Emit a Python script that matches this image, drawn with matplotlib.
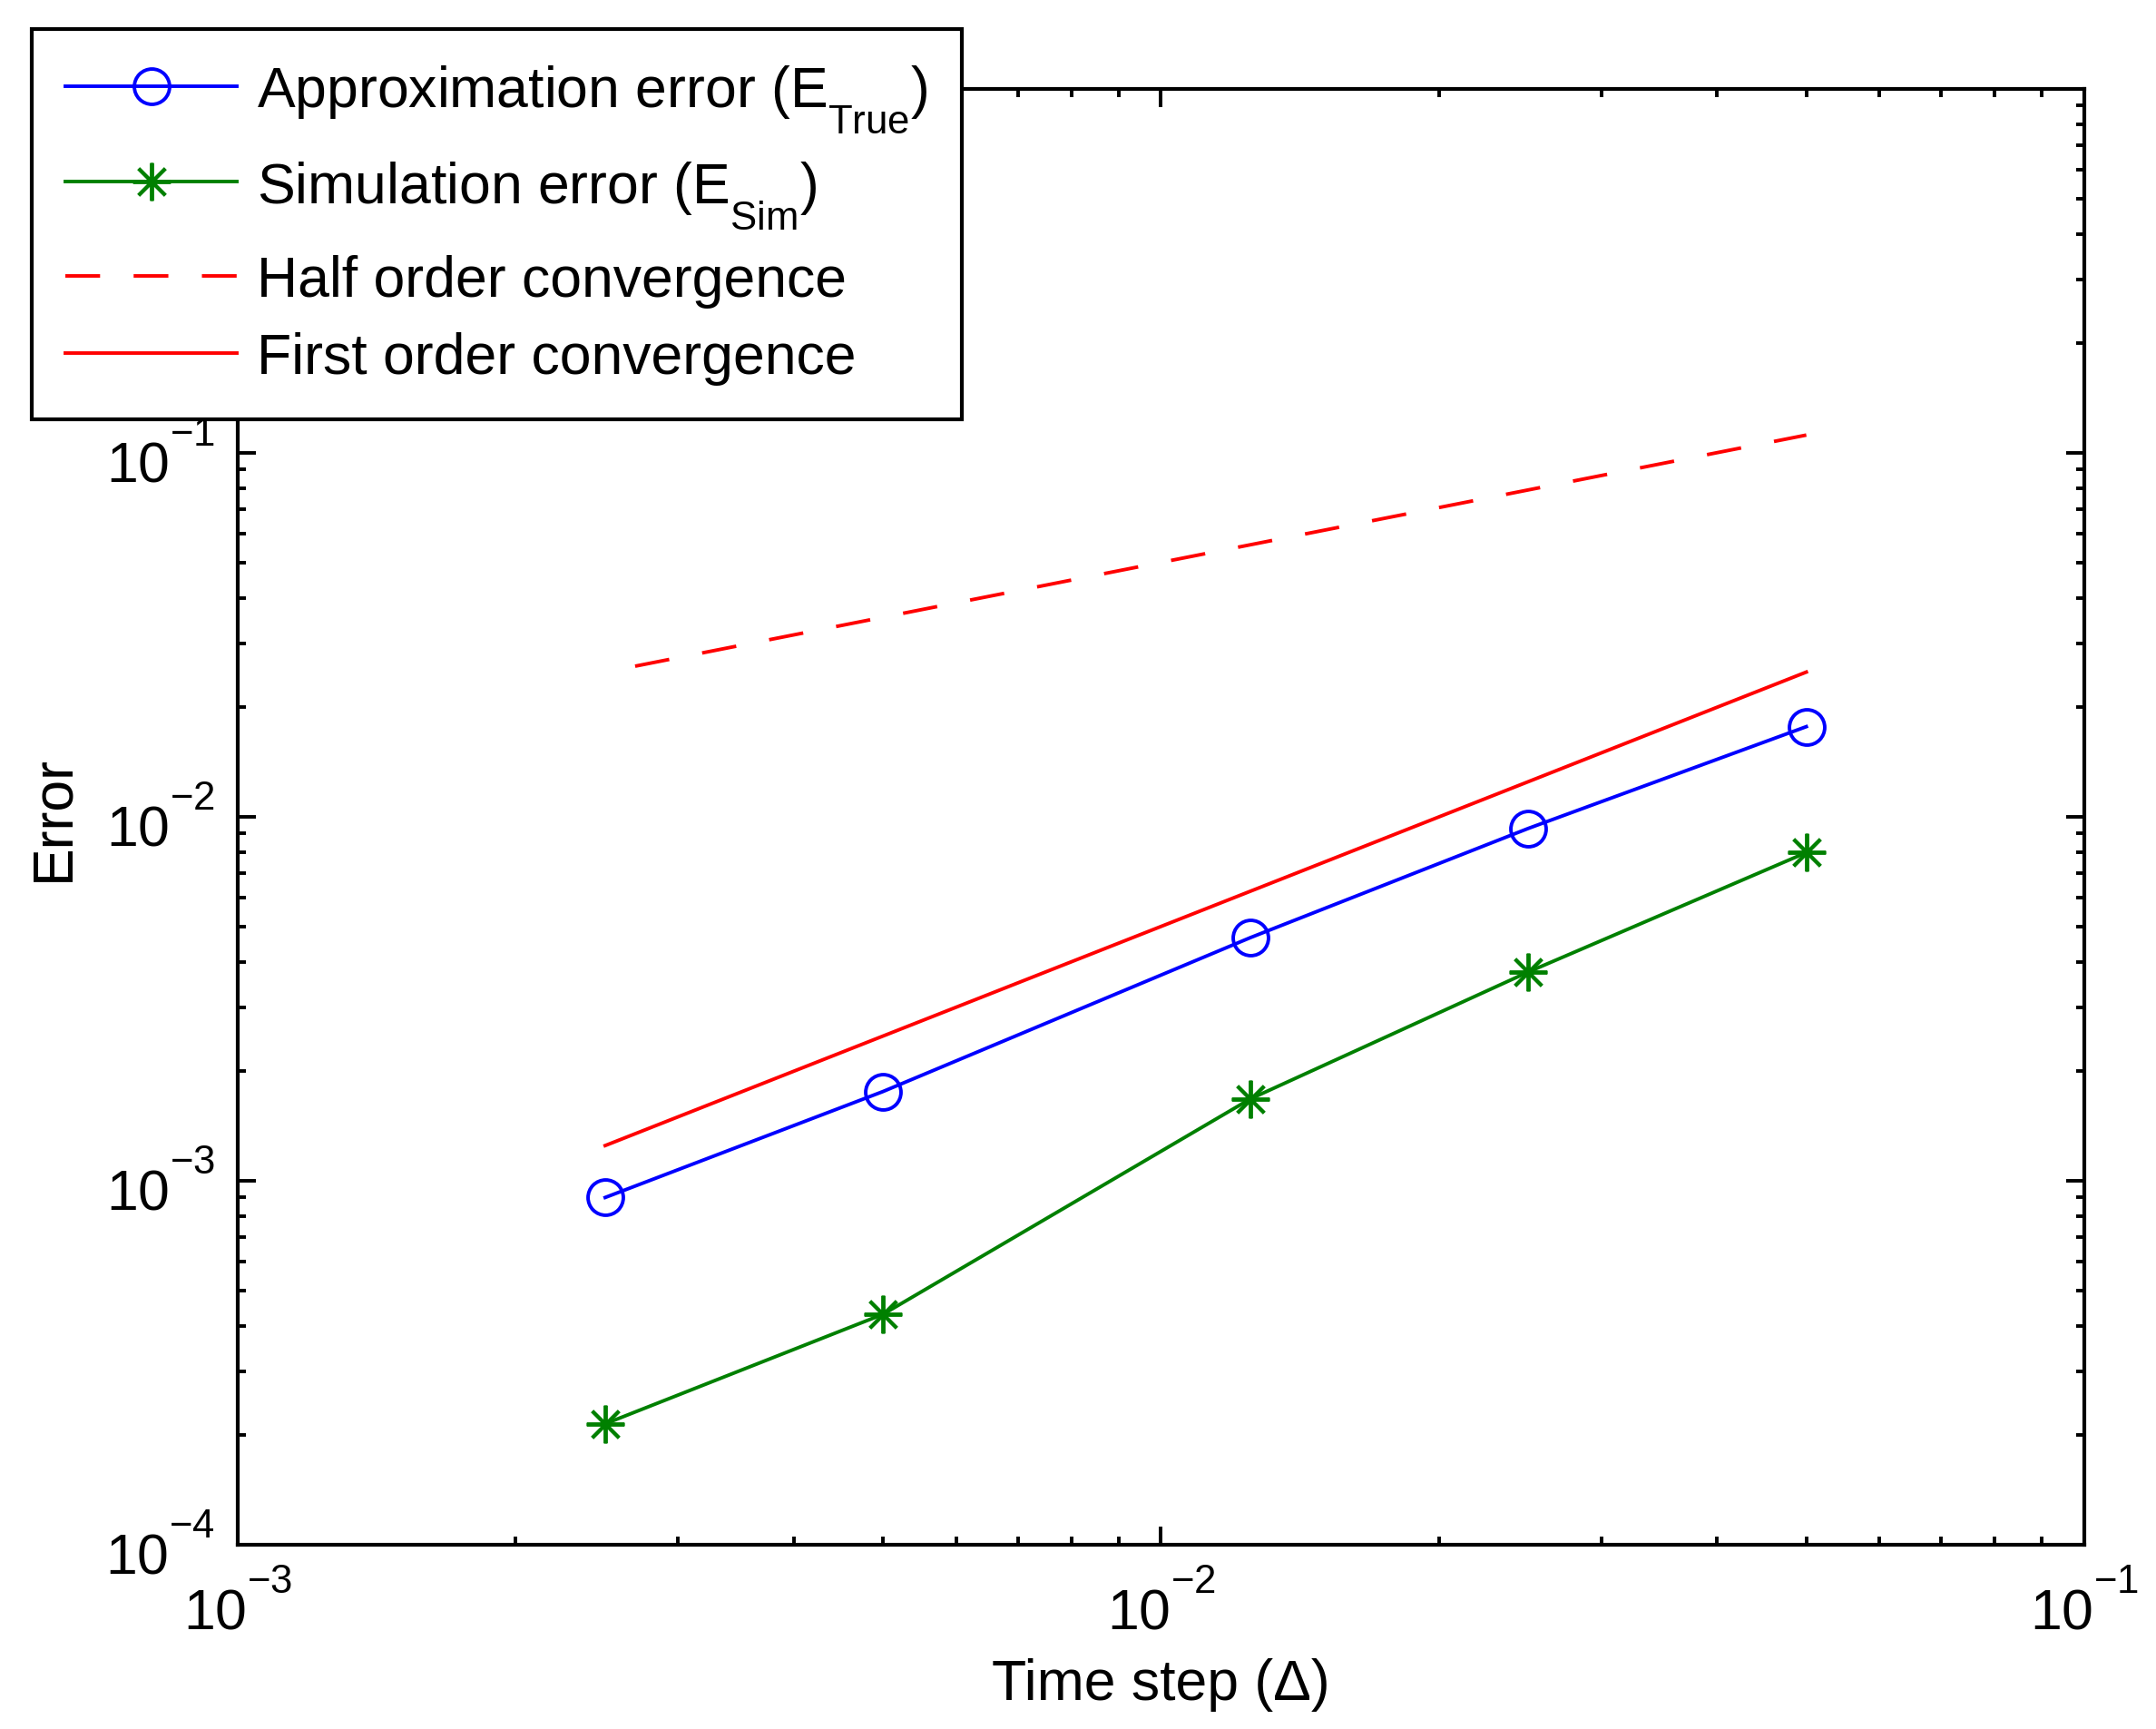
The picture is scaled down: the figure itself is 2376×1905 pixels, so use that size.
import matplotlib
matplotlib.use("Agg")
import matplotlib.pyplot as plt
import matplotlib._mathtext as mtext
from matplotlib.ticker import LogLocator, LogFormatterMathtext

plt.rcParams["font.family"] = ["Liberation Sans", "DejaVu Sans"]
plt.rcParams["mathtext.default"] = "regular"
plt.rcParams["font.size"] = 22.5

# MATLAB puts sub/superscripts further from the baseline
mtext.FontConstantsBase.sub1 = 0.9
mtext.FontConstantsBase.sup1 = 1.2

# time steps
dt = [0.0025, 0.005, 0.0125, 0.025, 0.05]
# errors
e_true = [9.0e-4, 1.76e-3, 4.66e-3, 9.3e-3, 1.77e-2]
e_sim = [2.15e-4, 4.3e-4, 1.68e-3, 3.75e-3, 7.98e-3]
# reference slopes
half_x = [0.0025, 0.05]
half_y = [0.025, 0.112]
first_x = [0.0025, 0.05]
first_y = [1.25e-3, 0.025]

fig = plt.figure(figsize=(11.88, 9.53), dpi=200)
ax = fig.add_axes([0.1103, 0.1065, 0.9667 - 0.1103, 0.948 - 0.1065])

lw = 1.4
dash = (9.85, 9.5)
ax.plot(dt, e_true, color="#0000ff", lw=lw, marker="o", ms=14,
        mfc="none", mec="#0000ff", mew=1.4, label="Approximation error (E$_{True}$)")
ax.plot(dt, e_sim, color="#008000", lw=lw, marker=(8, 2, 0), ms=15,
        mec="#008000", mew=1.4, label="Simulation error (E$_{Sim}$)")
ax.plot(half_x, half_y, color="#ff0000", lw=lw, linestyle=(10.7, dash),
        label="Half order convergence")
ax.plot(first_x, first_y, color="#ff0000", lw=lw, label="First order convergence")

ax.set_xscale("log")
ax.set_yscale("log")
ax.set_xlim(1e-3, 1e-1)
ax.set_ylim(1e-4, 1)
ax.xaxis.set_major_locator(LogLocator(base=10, numticks=10))
ax.yaxis.set_major_formatter(LogFormatterMathtext())
ax.set_yticks([1e-4, 1e-3, 1e-2, 1e-1])

ax.tick_params(which="both", direction="in", top=True, right=True, width=1.4)
ax.tick_params(which="major", length=7.2)
ax.tick_params(which="minor", length=3.4)
ax.tick_params(axis="x", which="major", pad=11)
ax.tick_params(axis="y", which="major", pad=9)
for s in ax.spines.values():
    s.set_linewidth(1.5)

ax.set_xlabel("Time step (\u0394)", labelpad=6.5)
ax.set_ylabel("Error", labelpad=10)

leg = fig.legend(loc="upper left", bbox_to_anchor=(0.0147, 0.9827),
                 fancybox=False, framealpha=1, edgecolor="black",
                 handlelength=3.02, handletextpad=0.35, borderpad=0.6,
                 labelspacing=0.42, borderaxespad=0)
leg.get_frame().set_linewidth(1.5)
leg.get_lines()[2].set_linestyle((0, dash))

fig.savefig("out.png", dpi=200)
